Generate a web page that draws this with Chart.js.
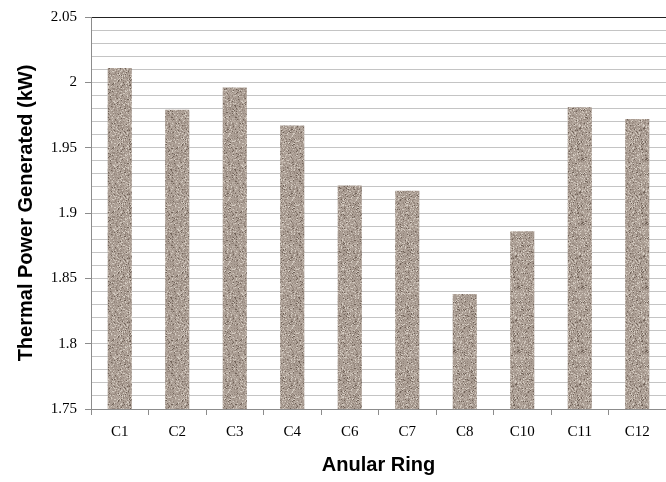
<!DOCTYPE html>
<html>
<head>
<meta charset="utf-8">
<script src="https://cdn.jsdelivr.net/npm/chart.js@4.4.1/dist/chart.umd.min.js"></script>
<style>
    body { margin: 0; background: #fff; }
    #wrap { width: 666px; height: 482px; }
</style>
</head>
<body>
<div id="wrap"><canvas id="barPower" width="666" height="482"></canvas></div>
<script>
// dados do grafico
const aneis = ['C1', 'C2', 'C3', 'C4', 'C6', 'C7', 'C8', 'C10', 'C11', 'C12'];
const potencia = [2.011, 1.979, 1.996, 1.967, 1.921, 1.917, 1.838, 1.886, 1.981, 1.972];
const eixoY = { min: 1.75, max: 2.05, passo: 0.01, passoMaior: 0.05 };

// textura de granito para as barras (ruido fixo, sempre igual)
function texturaGranito() {
    const c = document.createElement('canvas');
    c.width = 64;
    c.height = 64;
    const g = c.getContext('2d');
    let s = 12345;
    const rnd = () => { s = (s * 16807) % 2147483647; return s / 2147483647; };
    g.fillStyle = 'rgb(170,157,147)';
    g.fillRect(0, 0, 64, 64);
    for (let y = 0; y < 64; y++) {
        for (let x = 0; x < 64; x++) {
            const r = rnd();
            let col = null;
            if (r < 0.05) col = [112, 98, 88];
            else if (r < 0.22) col = [148, 134, 124];
            else if (r < 0.40) col = [188, 176, 166];
            else if (r < 0.50) col = [212, 203, 193];
            if (col) {
                g.fillStyle = 'rgb(' + col.join(',') + ')';
                g.fillRect(x, y, 1, 1);
            }
        }
    }
    return g.createPattern(c, 'repeat');
}

const ehMaior = v => Math.round(v * 100) % 5 === 0;

const dadosPower = {
    labels: aneis,
    datasets: [{
        label: 'Thermal Power',
        data: potencia,
        backgroundColor: texturaGranito(),
        borderWidth: 0,
        categoryPercentage: 1,
        barPercentage: 0.42
    }]
};

const configPower = {
    type: 'bar',
    data: dadosPower,
    options: {
        responsive: false,
        animation: false,
        layout: { padding: { top: 14, right: 0, left: 0, bottom: 0 } },
        plugins: {
            legend: { display: false },
            tooltip: { enabled: false }
        },
        scales: {
            x: {
                afterFit: s => { s.height = 73; },
                border: { color: '#8c8c8c' },
                grid: {
                    offset: true,
                    drawOnChartArea: false,
                    tickLength: 6,
                    color: '#8c8c8c'
                },
                ticks: {
                    color: '#000',
                    padding: 8,
                    font: { family: "'Liberation Serif', 'Times New Roman', serif", size: 15 }
                },
                title: {
                    display: true,
                    text: 'Anular Ring',
                    color: '#000',
                    padding: { top: 0, bottom: 5 },
                    font: { family: "'Liberation Sans', Arial, sans-serif", size: 20, weight: 'bold' }
                }
            },
            y: {
                min: eixoY.min,
                max: eixoY.max,
                afterFit: s => { s.width = 91; },
                border: { color: '#8c8c8c' },
                grid: {
                    tickLength: 6,
                    color: ctx => ctx.tick && Math.abs(ctx.tick.value - eixoY.max) < 1e-6 ? '#222' : '#c4c4c4',
                    tickColor: ctx => ctx.tick && ehMaior(ctx.tick.value) ? '#8c8c8c' : 'rgba(0,0,0,0)'
                },
                ticks: {
                    stepSize: eixoY.passo,
                    autoSkip: false,
                    padding: 8,
                    color: '#000',
                    font: { family: "'Liberation Serif', 'Times New Roman', serif", size: 15 },
                    callback: v => ehMaior(v) ? String(Math.round(v * 100) / 100) : ''
                },
                title: {
                    display: true,
                    text: 'Thermal Power Generated (kW)',
                    color: '#000',
                    padding: { top: 14, bottom: 0 },
                    font: { family: "'Liberation Sans', Arial, sans-serif", size: 20, weight: 'bold' }
                }
            }
        }
    }
};

new Chart(document.getElementById('barPower').getContext('2d'), configPower);
</script>
</body>
</html>
